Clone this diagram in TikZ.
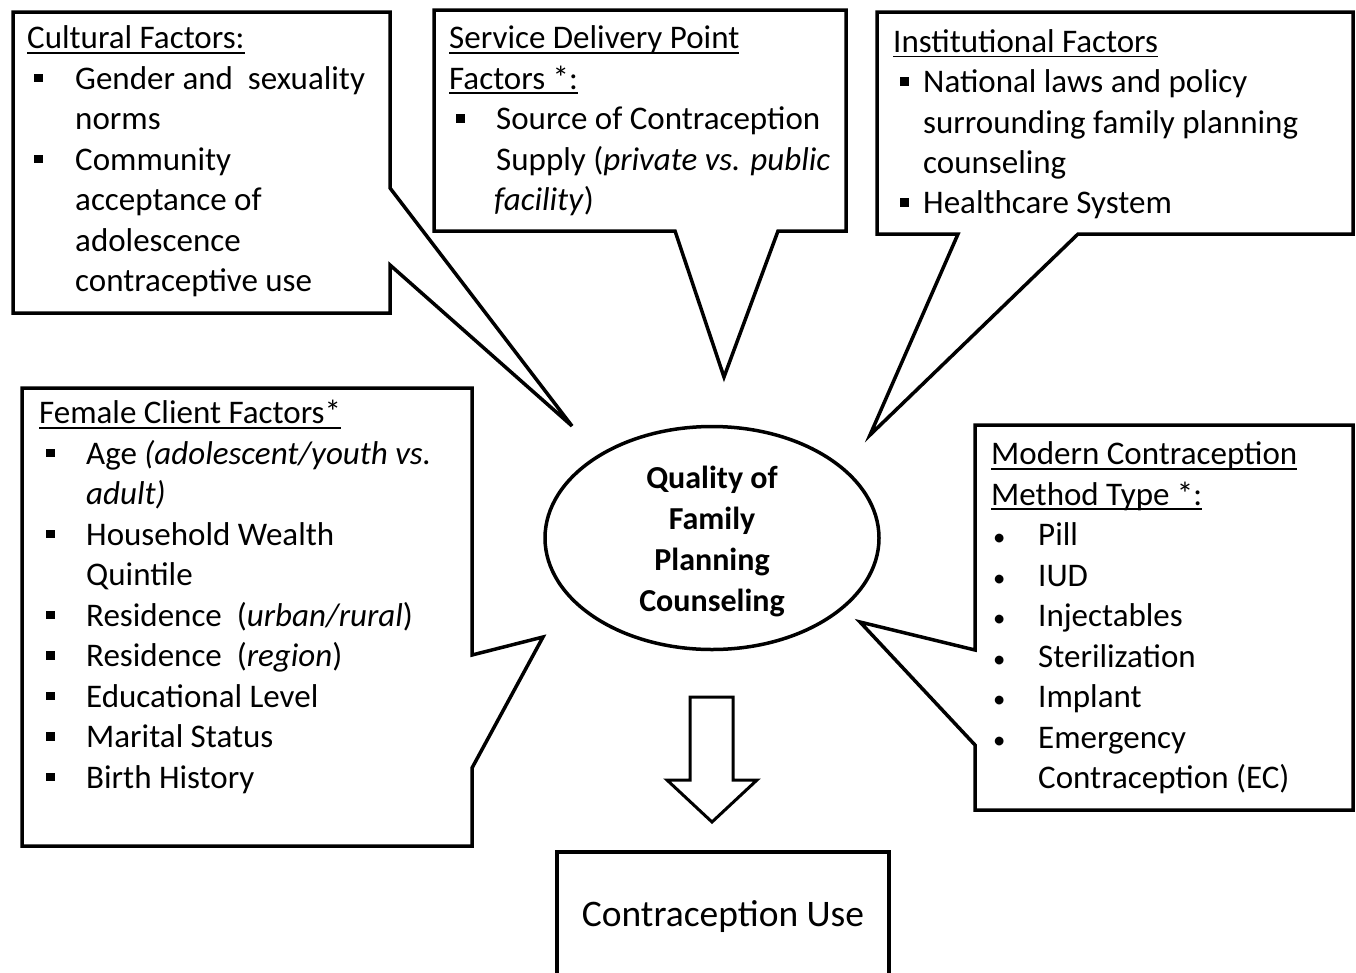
\documentclass[tikz,border=0pt]{standalone}
\usepackage{fontspec}
\setmainfont{Carlito}
\usetikzlibrary{positioning,shapes.geometric}

\newsavebox{\hdbox}
\newcommand{\sqbul}{\rule[7pt]{8.5pt}{8.5pt}}
\newcommand{\hd}[1]{\strut\sbox{\hdbox}{#1}\rlap{\rule[-5pt]{\wd\hdbox}{1.8pt}}\usebox{\hdbox}}
\newcommand{\itm}[2][48pt]{\strut\hspace*{7pt}\makebox[\dimexpr#1-7pt\relax][l]{\sqbul}#2}
\newcommand{\ritm}[2][47pt]{\strut\hspace*{2pt}\makebox[\dimexpr#1-2pt\relax][l]{\scalebox{0.75}{\textbullet}}#2}
\newcommand{\cnt}[2][48pt]{\strut\hspace*{#1}#2}

\tikzset{
  callout/.style={draw, line width=3.5pt, fill=white, line join=miter},
  factors/.style={anchor=north west, inner sep=0pt, align=left,
    font=\fontsize{33}{40.5}\selectfont},
  centre/.style={ellipse, draw, line width=3.5pt, minimum width=334pt,
    minimum height=223pt},
  outcome/.style={draw, line width=3.5pt, minimum width=332pt, minimum height=130pt,
    font=\fontsize{37.5}{45}\selectfont},
  blockarrow/.style={draw, line width=3pt, fill=white, line join=miter}
}

\begin{document}
\begin{tikzpicture}[x=1pt, y=-1pt]
  \useasboundingbox (0,0) rectangle (1356,972);

  \draw[callout] (13,12) -- (390,12) -- (390,188) -- (572,426) -- (390,265)
    -- (390,313) -- (13,313) -- cycle;
  \draw[callout] (434,10) -- (846,10) -- (846,231) -- (778,231) -- (724,377)
    -- (675,231) -- (434,231) -- cycle;
  \draw[callout] (877,12) -- (1353,12) -- (1353,234) -- (1078,234) -- (870,435)
    -- (958,234) -- (877,234) -- cycle;
  \draw[callout] (22,388) -- (472,388) -- (472,655) -- (543,637) -- (472,768)
    -- (472,846) -- (22,846) -- cycle;
  \draw[callout] (975,425) -- (1353,425) -- (1353,810) -- (975,810) -- (975,745)
    -- (860,622) -- (975,650) -- cycle;

  \node[factors] (cultural) at (27,20) {\hd{Cultural Factors:}\\
    \itm{Gender and\ \ sexuality}\\ \cnt{norms}\\ \itm{Community}\\
    \cnt{acceptance of}\\ \cnt{adolescence}\\ \cnt{contraceptive use}};

  \node[factors] (delivery) at (449,20) {\hd{Service\ Delivery\ Point}\\
    \hd{Factors *:}\\ \itm[47pt]{Source of Contraception}\\
    \cnt[47pt]{Supply (\textit{private vs. public}}\\ \cnt[45pt]{\textit{facility})}};

  \node[factors, font=\fontsize{33}{40.3}\selectfont] (institution) at (893,24)
    {\hd{Institutional Factors}\\ \itm[30pt]{National laws and policy}\\
    \cnt[30pt]{surrounding\ family planning}\\ \cnt[30pt]{counseling}\\
    \itm[30pt]{Healthcare System}};

  \node[factors] (client) at (39,395) {\hd{Female Client Factors*}\\
    \itm[47pt]{Age \textit{(adolescent/youth vs.}}\\ \cnt[47pt]{\textit{adult)}}\\
    \itm[47pt]{Household\ Wealth}\\ \cnt[47pt]{Quintile}\\
    \itm[47pt]{Residence\ \ (\textit{urban/rural})}\\ \itm[47pt]{Residence\ \ (\textit{region})}\\
    \itm[47pt]{Educational Level}\\ \itm[47pt]{Marital Status}\\ \itm[47pt]{Birth History}};

  \node[factors] (method) at (991,436) {\hd{Modern\ Contraception}\\
    \hd{Method Type *:}\\ \ritm{Pill}\\ \ritm{IUD}\\ \ritm{Injectables}\\
    \ritm{Sterilization}\\ \ritm{Implant}\\ \ritm{Emergency}\\
    \cnt[47pt]{Contraception (EC)}};

  \node[centre, fill=white] (quality) at (712,538) {};
  \node[align=center, font=\bfseries\fontsize{32}{41}\selectfont] (qtext)
    at ([yshift=-3pt]quality.center) {Quality of\\ Family\\ Planning\\ Counseling};

  \draw[blockarrow] (690,697) -- (733,697) -- (733,780) -- (757,780) -- (712,822)
    -- (667,780) -- (690,780) -- cycle;

  \node[outcome] (use) at (723,917) {Contraception Use};
\end{tikzpicture}
\end{document}
